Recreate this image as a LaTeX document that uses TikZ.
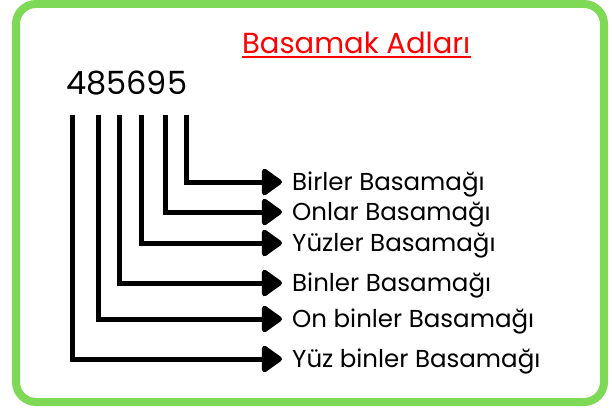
\documentclass[tikz,border=0pt]{standalone}
\usepackage{fontspec}
\setmainfont{Poppins}
\usetikzlibrary{arrows.meta}
\definecolor{framegreen}{RGB}{126,217,87}
\definecolor{titlered}{RGB}{255,0,0}
\begin{document}
\begin{tikzpicture}[x=1pt,y=1pt,
  conn/.style={line width=5pt, line join=miter, shorten >=10pt,
    -{Triangle[length=22pt,width=30pt,round]}},
  lbl/.style={anchor=west, inner sep=0pt, text height=17pt, text depth=0pt,
    font=\fontsize{24.5}{24.5}\selectfont},
  titlestyle/.style={anchor=base west, inner sep=0pt, text=titlered,
    font=\fontsize{29}{29}\selectfont},
  numstyle/.style={anchor=base west, inner sep=0pt,
    font=\fontsize{32}{32}\selectfont}
]
\useasboundingbox (0,0) rectangle (612,408);
\draw[framegreen, line width=8pt, rounded corners=20pt, fill=white] (16,6) rectangle (604,404);

\node[titlestyle] (title) at (242,355) {Basamak Adları};
\draw[titlered, line width=2pt] ([yshift=-4pt]title.base west) -- ([yshift=-4pt]title.base east);

\node[numstyle] (num) at (66,314) {485695};

\node[lbl] (t1) at (292,226) {Birler Basamağı};
\node[lbl] (t2) at (292,196) {Onlar Basamağı};
\node[lbl] (t3) at (292,165) {Yüzler Basamağı};
\node[lbl] (t4) at (292,125) {Binler Basamağı};
\node[lbl] (t5) at (292,89) {On binler Basamağı};
\node[lbl] (t6) at (292,49) {Yüz binler Basamağı};

\coordinate (v1) at (186,293);
\coordinate (v2) at (165,293);
\coordinate (v3) at (141,293);
\coordinate (v4) at (119,293);
\coordinate (v5) at (98,293);
\coordinate (v6) at (72,293);

\draw[conn] (v1) |- (t1.west);
\draw[conn] (v2) |- (t2.west);
\draw[conn] (v3) |- (t3.west);
\draw[conn] (v4) |- (t4.west);
\draw[conn] (v5) |- (t5.west);
\draw[conn] (v6) |- (t6.west);
\end{tikzpicture}
\end{document}
